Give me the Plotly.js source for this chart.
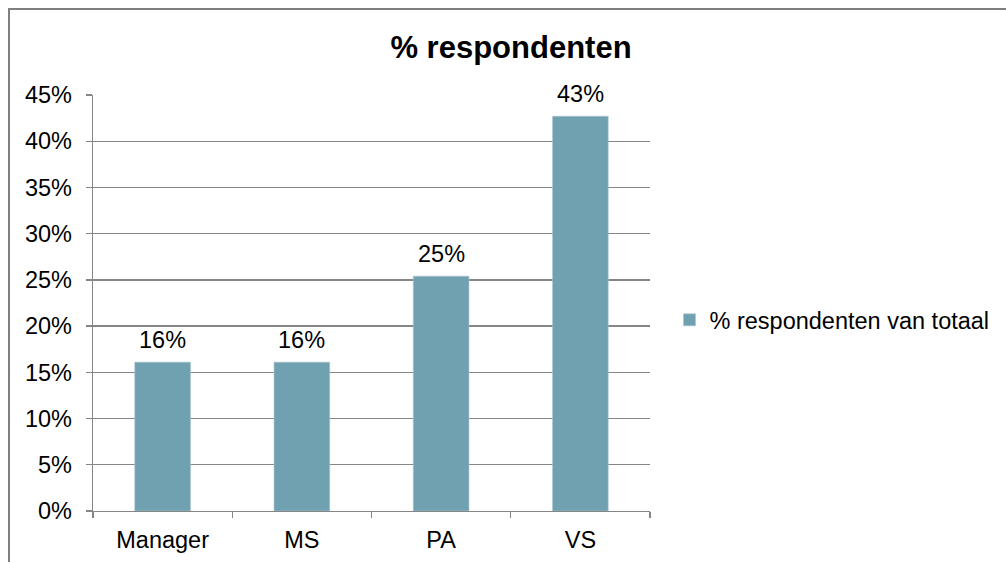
<!DOCTYPE html>
<html>
<head>
<meta charset="utf-8">
<script src="https://cdn.plot.ly/plotly-3.0.1.min.js"></script>
<style>
  html, body { margin: 0; padding: 0; background: #fff; }
  #wrap { position: relative; width: 1006px; height: 562px; overflow: hidden; }
  #chart { position: absolute; left: 0; top: 0; width: 1006px; height: 562px; }
  #frame { position: absolute; left: 8px; top: 8px; width: 1100px; height: 700px;
           border-left: 2px solid #7f7f7f; border-top: 2px solid #7f7f7f; pointer-events: none; }
</style>
</head>
<body>
<div id="wrap">
  <div id="chart"></div>
  <div id="frame"></div>
</div>
<script>
const categories = ["Manager", "MS", "PA", "VS"];
const values = [0.161, 0.161, 0.254, 0.427];
const seriesName = "% respondenten van totaal";
const chartTitle = "% respondenten";
const tickValues = [0, 0.05, 0.10, 0.15, 0.20, 0.25, 0.30, 0.35, 0.40, 0.45];
const tickLabels = ["0%", "5%", "10%", "15%", "20%", "25%", "30%", "35%", "40%", "45%"];

const FONT = "Liberation Sans, Arial, sans-serif";
const GRID = "#868686";
const FS = 23.5;

const trace = {
  type: "bar",
  x: categories,
  y: values,
  name: seriesName,
  marker: { color: "#70a1b1", line: { color: "#a9c6d0", width: 0.6 } },
  hoverinfo: "none",
  showlegend: true
};

const annotations = categories.map((c, i) => ({
  x: c, y: values[i], xref: "x", yref: "y",
  text: Math.round(values[i] * 100) + "%",
  showarrow: false, yanchor: "middle", yshift: 22,
  font: { family: FONT, size: FS, color: "#000" }
}));

const layout = {
  width: 1006, height: 562,
  margin: { l: 93, r: 356, t: 95, b: 51 },
  paper_bgcolor: "#fff", plot_bgcolor: "#fff",
  font: { family: FONT, size: FS, color: "#000" },
  title: { text: "<b>" + chartTitle + "</b>", font: { family: FONT, size: 31, color: "#000" },
           x: 511 / 1006, xref: "container", xanchor: "center", y: 1 - 47 / 562, yref: "container", yanchor: "middle" },
  bargap: 0.6,
  xaxis: {
    type: "category",
    showline: true, linecolor: GRID, linewidth: 1.3,
    ticks: "outside", tickson: "boundaries", ticklen: 6, tickcolor: GRID, tickwidth: 1.3,
    ticklabelstandoff: 7,
    showgrid: false, zeroline: false,
    tickfont: { family: FONT, size: FS, color: "#000" },
    fixedrange: true
  },
  yaxis: {
    range: [0, 0.45],
    tickvals: tickValues, ticktext: tickLabels,
    showline: true, linecolor: GRID, linewidth: 1.3,
    ticks: "outside", ticklen: 6, tickcolor: GRID, tickwidth: 1.3,
    ticklabelstandoff: 9,
    showgrid: true, gridcolor: GRID, gridwidth: 1.3,
    zeroline: false,
    tickfont: { family: FONT, size: FS, color: "#000" },
    fixedrange: true
  },
  legend: {
    x: 1.035, xanchor: "left", y: 0.459, yanchor: "middle",
    font: { family: FONT, size: FS, color: "#000" },
    bgcolor: "rgba(0,0,0,0)", itemwidth: 30
  },
  annotations: annotations
};

Plotly.newPlot("chart", [trace], layout, { staticPlot: true, displayModeBar: false });
</script>
</body>
</html>
